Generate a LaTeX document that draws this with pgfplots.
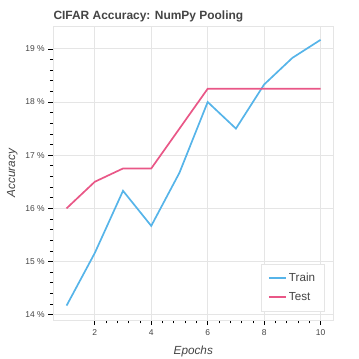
\documentclass[border=0pt]{standalone}
\usepackage{fontspec}
\setmainfont{Liberation Sans}
\usepackage{pgfplots}
\pgfplotsset{compat=1.18}
\definecolor{trainc}{RGB}{86,180,233}
\definecolor{testc}{RGB}{233,87,135}
\definecolor{txt}{RGB}{68,68,68}
\definecolor{gridc}{RGB}{229,229,229}
\begin{document}
\begin{tikzpicture}
\useasboundingbox (0,0) rectangle (359bp,359bp);
\begin{axis}[
  at={(53.3bp,39bp)}, anchor=south west,
  scale only axis, width=280bp, height=294bp,
  xmin=0.53, xmax=10.45, ymin=13.9, ymax=19.43,
  axis lines=left, axis line style={-, black, line width=0.8pt},
  xtick={2,4,6,8,10}, xticklabels={2,4,6,8,10},
  ytick={14,15,16,17,18,19}, yticklabels={14 \%,15 \%,16 \%,17 \%,18 \%,19 \%},
  minor x tick num=4, minor y tick num=4,
  tick align=outside, major tick length=5bp, minor tick length=3.3bp,
  tick style={black, line width=0.7pt},
  ticklabel style={font=\fontsize{8.5}{10}\selectfont, text=txt},
  xticklabel style={yshift=-1bp},
  grid=major, major grid style={gridc, line width=0.8pt},
  legend style={at={(1,0)}, anchor=south east, xshift=-9bp, yshift=9bp,
    draw=gridc, fill=white, font=\fontsize{11.7}{14}\selectfont, text=txt,
    inner xsep=7bp, inner ysep=7bp, row sep=5bp},
  legend cell align=left,
  legend image code/.code={\draw[#1, line width=2pt] (0bp,0bp) -- (17bp,0bp);},
  clip=false,
]
\draw[gridc, line width=0.8pt] (rel axis cs:0,0) rectangle (rel axis cs:1,1);
\addplot[trainc, line width=1.7pt] coordinates {
(1,14.17) (2,15.16) (3,16.33) (4,15.67) (5,16.67) (6,18.0) (7,17.5) (8,18.33) (9,18.83) (10,19.17)};
\addlegendentry{Train}
\addplot[testc, line width=1.7pt] coordinates {
(1,16.0) (2,16.5) (3,16.75) (4,16.75) (5,17.5) (6,18.25) (7,18.25) (8,18.25) (9,18.25) (10,18.25)};
\addlegendentry{Test}
\end{axis}
\node[anchor=base west, inner sep=0, text=txt, font=\bfseries\fontsize{12}{14}\selectfont] at (53.3bp,339.7bp) {CIFAR Accuracy: NumPy Pooling};
\node[anchor=base, inner sep=0, text=txt, font=\itshape\fontsize{11.8}{14}\selectfont] at (193.3bp,4.7bp) {Epochs};
\node[anchor=base, inner sep=0, rotate=90, text=txt, font=\itshape\fontsize{11.8}{14}\selectfont] at (15.2bp,186bp) {Accuracy};
\end{tikzpicture}
\end{document}
